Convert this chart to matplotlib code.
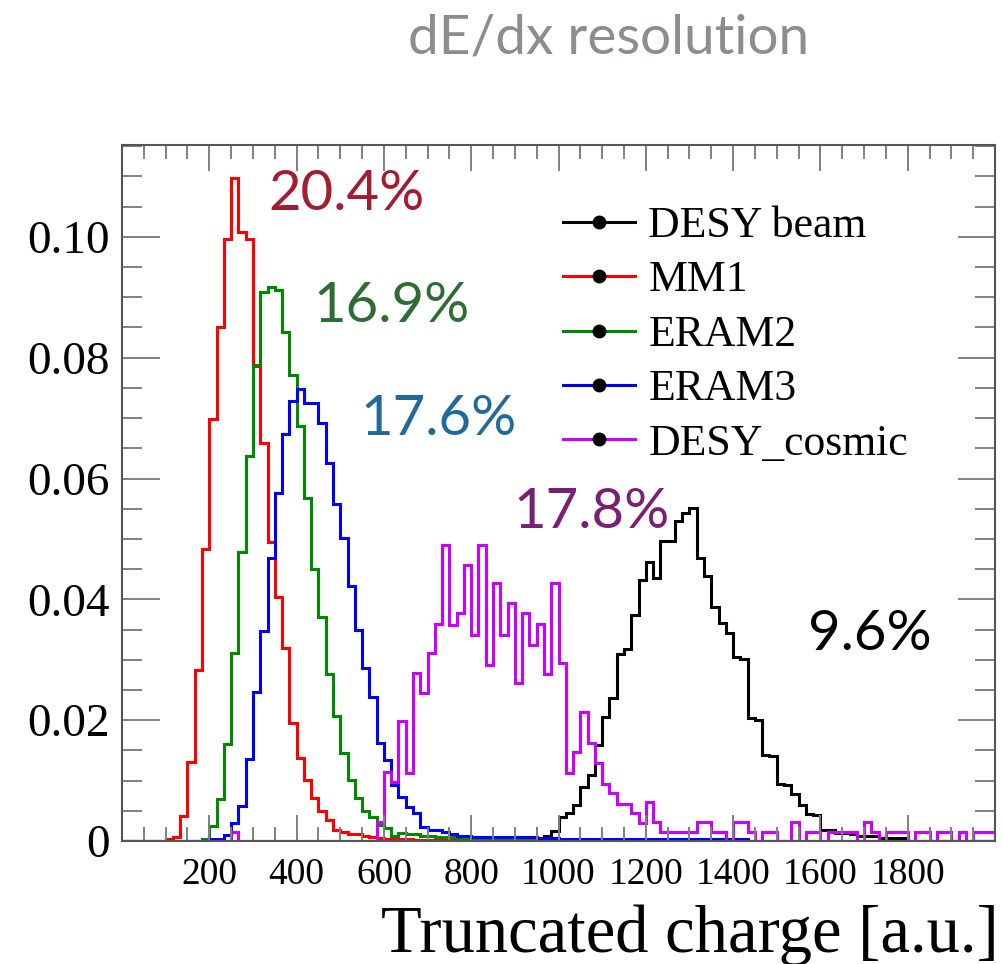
import numpy as np
import matplotlib
matplotlib.use("Agg")
import matplotlib.pyplot as plt
from matplotlib.lines import Line2D
from matplotlib.ticker import MultipleLocator, FuncFormatter

# ---------------- data ----------------
n_bins = 120
x_min, x_max = 0.0, 2000.0

series_names = ["DESY beam", "MM1", "ERAM2", "ERAM3", "DESY_cosmic"]
series_colors = ["#000000", "#ff0000", "#008a00", "#0000ff", "#cc00ff"]
resolutions = ["9.6%", "20.4%", "16.9%", "17.6%", "17.8%"]
res_colors = ["#000000", "#a51c30", "#2e6b35", "#1f6a9a", "#7a1f72"]

desy_beam_start = 57
desy_beam = [0.0003, 0.0008, 0.0017, 0.0040, 0.0046, 0.0060, 0.0089, 0.0109, 0.0159, 0.0206,
             0.0236, 0.0309, 0.0317, 0.0374, 0.0432, 0.0462, 0.0435, 0.0496, 0.0496, 0.0529,
             0.0543, 0.0551, 0.0468, 0.0439, 0.0388, 0.0361, 0.0344, 0.0305, 0.0301, 0.0203,
             0.0200, 0.0142, 0.0141, 0.0094, 0.0093, 0.0078, 0.0060, 0.0045, 0.0043, 0.0018,
             0.0018, 0.0013, 0.0013, 0.0012, 0.0009, 0.0009, 0.0008, 0.0005, 0.0005, 0.0005,
             0.0005]

mm1_start = 6
mm1 = [0.0004, 0.0006, 0.0042, 0.0130, 0.0283, 0.0484, 0.0699, 0.0851, 0.0996, 0.1097,
       0.1008, 0.0997, 0.0787, 0.0659, 0.0495, 0.0404, 0.0320, 0.0196, 0.0137, 0.0101,
       0.0072, 0.0050, 0.0034, 0.0018, 0.0015, 0.0012, 0.0011, 0.0008, 0.0006, 0.0005,
       0.0004, 0.0005, 0.0003, 0.0003, 0.0002, 0.0002, 0.0002, 0.0001, 0.0001, 0.0001,
       0.0001]

eram2_start = 11
eram2 = [0.0004, 0.0025, 0.0070, 0.0160, 0.0311, 0.0478, 0.0637, 0.0788, 0.0908, 0.0917,
         0.0912, 0.0842, 0.0771, 0.0687, 0.0568, 0.0451, 0.0371, 0.0276, 0.0207, 0.0145,
         0.0101, 0.0072, 0.0050, 0.0040, 0.0026, 0.0021, 0.0009, 0.0013, 0.0012, 0.0011,
         0.0008, 0.0009, 0.0007, 0.0006, 0.0006, 0.0005, 0.0005, 0.0004, 0.0004, 0.0004,
         0.0003, 0.0003, 0.0003, 0.0002, 0.0002, 0.0002, 0.0001]

eram3_start = 12
eram3 = [0.0004, 0.0004, 0.0010, 0.0029, 0.0058, 0.0135, 0.0246, 0.0347, 0.0468, 0.0576,
         0.0673, 0.0729, 0.0748, 0.0725, 0.0725, 0.0692, 0.0625, 0.0557, 0.0502, 0.0422,
         0.0349, 0.0287, 0.0239, 0.0162, 0.0134, 0.0093, 0.0073, 0.0057, 0.0046, 0.0024,
         0.0018, 0.0018, 0.0015, 0.0011, 0.0008, 0.0009, 0.0007, 0.0007, 0.0006, 0.0006,
         0.0006, 0.0006, 0.0006, 0.0006, 0.0006, 0.0005, 0.0005, 0.0005, 0.0003, 0.0003,
         0.0003, 0.0003, 0.0003, 0.0003, 0.0003, 0.0003, 0.0003, 0.0003, 0.0003, 0.0003,
         0.0003, 0.0003, 0.0003, 0.0003, 0.0003, 0.0003, 0.0003, 0.0003, 0.0003, 0.0003,
         0.0003, 0.0003, 0.0003, 0.0003]

cosmic_early_bin = 15
cosmic_early = 0.0015
cosmic_start = 35
cosmic = [0.0032, 0.0115, 0.0098, 0.0198, 0.0112, 0.0278, 0.0245, 0.0311, 0.0360, 0.0490,
          0.0358, 0.0377, 0.0457, 0.0341, 0.0490, 0.0291, 0.0427, 0.0341, 0.0394, 0.0261,
          0.0377, 0.0325, 0.0360, 0.0276, 0.0427, 0.0294, 0.0112, 0.0148, 0.0213, 0.0162,
          0.0129, 0.0095, 0.0080, 0.0062, 0.0062, 0.0046, 0.0030, 0.0065, 0.0031, 0.0015,
          0.0015, 0.0015, 0.0015, 0.0015, 0.0031, 0.0031, 0.0015, 0.0015, 0.0000, 0.0031,
          0.0031, 0.0015, 0.0000, 0.0015, 0.0015, 0.0000, 0.0000, 0.0031, 0.0000, 0.0015,
          0.0015, 0.0000, 0.0015, 0.0015, 0.0015, 0.0015, 0.0000, 0.0031, 0.0015, 0.0000,
          0.0015, 0.0015, 0.0015, 0.0000, 0.0015, 0.0015, 0.0000, 0.0015, 0.0015, 0.0000,
          0.0015, 0.0000, 0.0015, 0.0015, 0.0015]

x_ticks = [200, 400, 600, 800, 1000, 1200, 1400, 1600, 1800]
y_ticks = [0, 0.02, 0.04, 0.06, 0.08, 0.10]


def full(start, vals):
    arr = np.zeros(n_bins)
    arr[start:start + len(vals)] = vals
    return arr


h_beam = full(desy_beam_start, desy_beam)
h_mm1 = full(mm1_start, mm1)
h_eram2 = full(eram2_start, eram2)
h_eram3 = full(eram3_start, eram3)
h_cosmic = full(cosmic_start, cosmic)
h_cosmic[cosmic_early_bin] = cosmic_early
hists = [h_beam, h_mm1, h_eram2, h_eram3, h_cosmic]

edges = np.linspace(x_min, x_max, n_bins + 1)

# ---------------- figure ----------------
W, H = 1002, 964
fig = plt.figure(figsize=(W / 100, H / 100), dpi=100)
ax_l, ax_r, ax_t, ax_b = 122, 995, 145, 841
ax = fig.add_axes([ax_l / W, 1 - ax_b / H, (ax_r - ax_l) / W, (ax_b - ax_t) / H])

for h, c in zip(hists, series_colors):
    ax.stairs(h, edges, color=c, lw=2.2, baseline=0)

ax.set_xlim(x_min, x_max)
ax.set_ylim(0, 0.1152)

serif = ["Liberation Serif", "DejaVu Serif"]
ax.xaxis.set_major_locator(matplotlib.ticker.FixedLocator(x_ticks))
ax.xaxis.set_minor_locator(MultipleLocator(50))
ax.yaxis.set_major_locator(matplotlib.ticker.FixedLocator(y_ticks))
ax.yaxis.set_minor_locator(MultipleLocator(0.005))
ax.yaxis.set_major_formatter(FuncFormatter(lambda v, p: "0" if abs(v) < 1e-9 else f"{v:.2f}"))
ax.xaxis.set_major_formatter(FuncFormatter(lambda v, p: f"{int(round(v))}"))

tick_col = "#808080"
ax.tick_params(axis="both", which="both", direction="in", top=True, right=True,
               color=tick_col, width=1.4)
ax.tick_params(axis="x", which="major", length=18.5, pad=12, labelsize=27)
ax.tick_params(axis="x", which="minor", length=10)
ax.tick_params(axis="y", which="major", length=27, pad=9, labelsize=34)
ax.tick_params(axis="y", which="minor", length=14.5)
for lab in ax.get_xticklabels() + ax.get_yticklabels():
    lab.set_family(serif)

for s in ax.spines.values():
    s.set_color("#555555")
    s.set_linewidth(1.5)

# legend
handles = [Line2D([], [], color=c, lw=2.2, marker="o", ms=9, mfc="black", mec="black")
           for c in series_colors]
leg = ax.legend(handles, series_names, loc="upper left",
                bbox_to_anchor=((563 - ax_l) / (ax_r - ax_l), (ax_b - 206) / (ax_b - ax_t)),
                frameon=False, borderpad=0, borderaxespad=0, handlelength=1.65,
                handletextpad=0.3, labelspacing=0.33,
                prop={"family": serif, "size": 31.5})

# x label
fig.text(999 / W, 1 - 952 / H, "Truncated charge [a.u.]", ha="right", va="baseline",
         family=serif, size=48)

# resolution annotations
res_pos = [(808, 650), (268, 210), (313, 322), (360, 435), (513, 528)]
for txt, col, (px, py) in zip(resolutions, res_colors, res_pos):
    fig.text(px / W, 1 - py / H, txt, ha="left", va="baseline", color=col,
             family=["Lato", "DejaVu Sans"], size=40.5)

# title
fig.text(408 / W, 1 - 53 / H, "dE/dx resolution", ha="left", va="baseline",
         color="#8a8e8e", family=["Lato", "DejaVu Sans"], size=39.5)

fig.savefig("out.png", dpi=100)
